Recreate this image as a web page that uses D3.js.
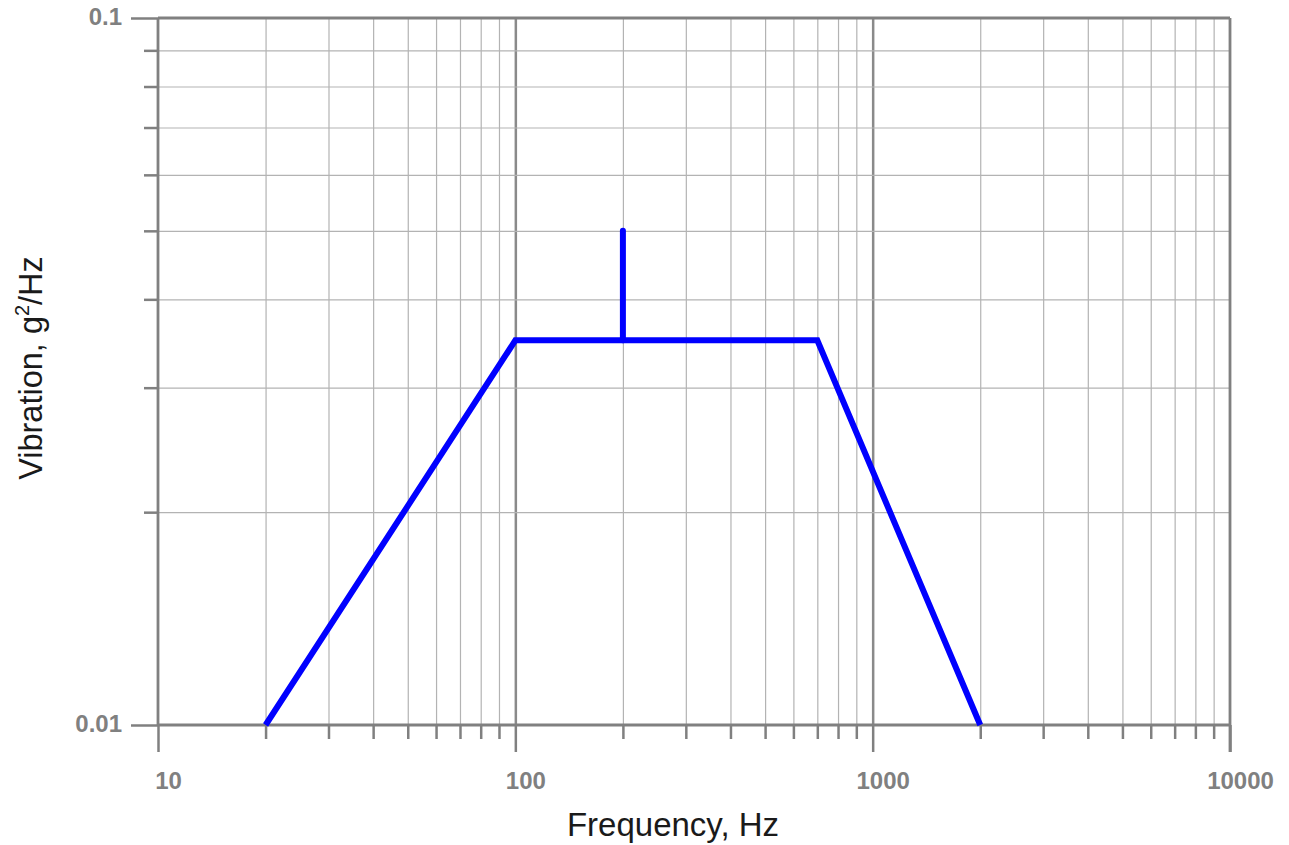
<!DOCTYPE html>
<html><head><meta charset="utf-8">
<script src="https://cdn.jsdelivr.net/npm/d3@7"></script>
<style>body{margin:0;background:#fff}svg{display:block}</style>
</head><body>
<svg id="c" width="1289" height="845"></svg>
<script>
const profileFreq = [20, 100, 700, 2000];
const profilePsd = [0.01, 0.035, 0.035, 0.01];
const spikeFreq = [200, 200];
const spikePsd = [0.035, 0.05];
const xMajorTicks = [10, 100, 1000, 10000];
const xMinorTicks = [20,30,40,50,60,70,80,90,200,300,400,500,600,700,800,900,2000,3000,4000,5000,6000,7000,8000,9000];
const yMajorTicks = [0.01, 0.1];
const yMinorTicks = [0.02,0.03,0.04,0.05,0.06,0.07,0.08,0.09];
const xTitle = "Frequency, Hz";

const svg = d3.select("#c");
const L = 158, R = 1230, T = 18, B = 725;
const x = d3.scaleLog().domain([10, 10000]).range([L, R]);
const y = d3.scaleLog().domain([0.01, 0.1]).range([B, T]);
const gray = "#808080";

// minor vertical grid
const vGrid = svg.append("g").attr("transform", `translate(0,${T})`)
  .call(d3.axisTop(x).tickValues(xMinorTicks).tickSize(-(B - T)).tickFormat(""));
vGrid.select(".domain").remove();
vGrid.selectAll("line").attr("stroke", "#b3b3b3").attr("stroke-width", 1.2);
// major vertical grid
const vMaj = svg.append("g").attr("transform", `translate(0,${T})`)
  .call(d3.axisTop(x).tickValues([100, 1000]).tickSize(-(B - T)).tickFormat(""));
vMaj.select(".domain").remove();
vMaj.selectAll("line").attr("stroke", "#8a8a8a").attr("stroke-width", 2.5);
// horizontal grid
const hGrid = svg.append("g").attr("transform", `translate(${L},0)`)
  .call(d3.axisRight(y).tickValues(yMinorTicks).tickSize(R - L).tickFormat(""));
hGrid.select(".domain").remove();
hGrid.selectAll("line").attr("stroke", "#b3b3b3").attr("stroke-width", 1.2);

// bottom ticks
const xMin = svg.append("g").attr("transform", `translate(0,${B})`)
  .call(d3.axisBottom(x).tickValues(xMinorTicks).tickSize(14).tickFormat(""));
xMin.select(".domain").remove();
xMin.selectAll("line").attr("stroke", gray).attr("stroke-width", 2.5);
const xMaj = svg.append("g").attr("transform", `translate(0,${B})`)
  .call(d3.axisBottom(x).tickValues(xMajorTicks).tickSize(27).tickPadding(20).tickFormat(d3.format("d")));
xMaj.select(".domain").remove();
xMaj.selectAll("line").attr("stroke", gray).attr("stroke-width", 2.5);
xMaj.selectAll("text").attr("fill", gray).attr("font-family", "Liberation Sans, Arial, sans-serif")
  .attr("font-weight", "bold").attr("font-size", 24).attr("dx", 10);

// left ticks
const yMin = svg.append("g").attr("transform", `translate(${L},0)`)
  .call(d3.axisLeft(y).tickValues(yMinorTicks).tickSize(14).tickFormat(""));
yMin.select(".domain").remove();
yMin.selectAll("line").attr("stroke", gray).attr("stroke-width", 2.5);
const yMaj = svg.append("g").attr("transform", `translate(${L},0)`)
  .call(d3.axisLeft(y).tickValues(yMajorTicks).tickSize(27).tickPadding(9).tickFormat(d => String(d)));
yMaj.select(".domain").remove();
yMaj.selectAll("line").attr("stroke", gray).attr("stroke-width", 2.5);
yMaj.selectAll("text").attr("fill", gray).attr("font-family", "Liberation Sans, Arial, sans-serif")
  .attr("font-weight", "bold").attr("font-size", 24).attr("dy", "0.25em");

// frame
const frame = svg.append("g").attr("stroke", gray).attr("stroke-width", 2.8);
frame.append("line").attr("x1", x(10)).attr("x2", x(10000)).attr("y1", y(0.1)).attr("y2", y(0.1));
frame.append("line").attr("x1", x(10)).attr("x2", x(10000)).attr("y1", y(0.01)).attr("y2", y(0.01));
frame.append("line").attr("x1", x(10)).attr("x2", x(10)).attr("y1", y(0.1)).attr("y2", y(0.01));
frame.append("line").attr("x1", x(10000)).attr("x2", x(10000)).attr("y1", y(0.1)).attr("y2", y(0.01) + 27);

// data
const line = d3.line().x(d => x(d[0])).y(d => y(d[1]));
svg.append("path").datum(d3.zip(profileFreq, profilePsd)).attr("d", line)
  .attr("fill", "none").attr("stroke", "#0000ff").attr("stroke-width", 6).attr("stroke-linejoin", "miter");
svg.append("path").datum(d3.zip(spikeFreq, spikePsd)).attr("d", line)
  .attr("fill", "none").attr("stroke", "#0000ff").attr("stroke-width", 6).attr("stroke-linecap", "round");

// titles
svg.append("text").attr("x", 673).attr("y", 836).attr("text-anchor", "middle")
  .attr("font-family", "Liberation Sans, Arial, sans-serif").attr("font-size", 33).attr("fill", "#1a1a1a")
  .text(xTitle);
const yt = svg.append("text").attr("transform", "translate(42,368) rotate(-90)").attr("text-anchor", "middle")
  .attr("font-family", "Liberation Sans, Arial, sans-serif").attr("font-size", 32.5).attr("fill", "#1a1a1a");
yt.append("tspan").text("Vibration, g");
yt.append("tspan").attr("font-size", 20).attr("dy", -13).text("2");
yt.append("tspan").attr("dy", 13).text("/Hz");
</script>
</body></html>
